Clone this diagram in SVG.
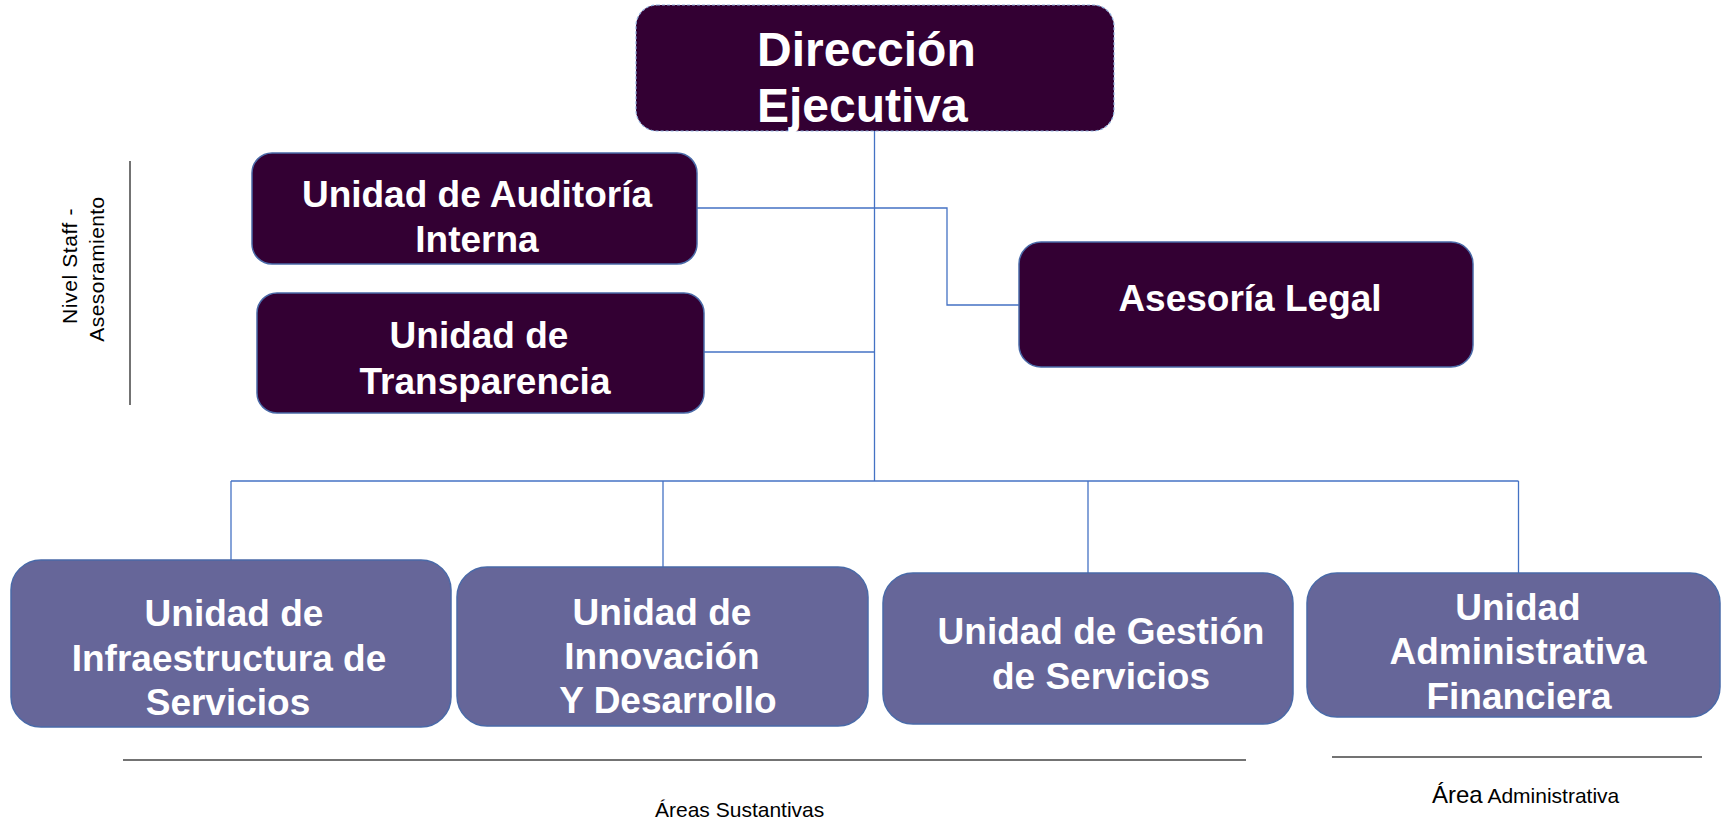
<svg xmlns="http://www.w3.org/2000/svg" width="1725" height="819" viewBox="0 0 1725 819">
<style>
.dark{fill:#330033;stroke:#4a6aa8;stroke-width:1.5}
.light{fill:#666699;stroke:#4a6aa8;stroke-width:1.5}
.lbl{font-family:"Liberation Sans",Arial,sans-serif;font-weight:bold;fill:#ffffff;text-anchor:middle}
.conn{fill:none;stroke:#4472c4;stroke-width:1.3}
.rule{stroke:#444444;stroke-width:1.5}
.note{font-family:"Liberation Sans",Arial,sans-serif;fill:#000000;font-size:21px}
</style>
<rect width="1725" height="819" fill="#ffffff"/>
<g id="connectors">
<path class="conn" d="M874.5 131 V481"/>
<path class="conn" d="M697 208 H947 V305 H1019"/>
<path class="conn" d="M704 352 H874.5"/>
<path class="conn" d="M231 481 H1518.5"/>
<path class="conn" d="M231 481 V560"/>
<path class="conn" d="M663 481 V567"/>
<path class="conn" d="M1088 481 V573"/>
<path class="conn" d="M1518.5 481 V573"/>
</g>
<g id="direccion">
<rect x="636" y="5" width="478" height="126" rx="21" fill="#330033" stroke="#8fb0dd" stroke-width="1.2" stroke-dasharray="3 2"/>
<text class="lbl" font-size="48" style="text-anchor:start" x="757" y="66">Dirección</text>
<text class="lbl" font-size="48" style="text-anchor:start" x="757" y="122">Ejecutiva</text>
</g>
<g id="auditoria">
<rect class="dark" x="252" y="153" width="445" height="111" rx="20"/>
<text class="lbl" font-size="37" x="477" y="207">Unidad de Auditoría</text>
<text class="lbl" font-size="37" x="477" y="252">Interna</text>
</g>
<g id="transparencia">
<rect class="dark" x="257" y="293" width="447" height="120" rx="20"/>
<text class="lbl" font-size="37" x="479" y="348">Unidad de</text>
<text class="lbl" font-size="37" x="485" y="394">Transparencia</text>
</g>
<g id="asesoria">
<rect class="dark" x="1019" y="242" width="454" height="125" rx="22"/>
<text class="lbl" font-size="37" x="1250" y="311">Asesoría Legal</text>
</g>
<g id="infraestructura">
<rect class="light" x="11" y="560" width="440" height="167" rx="30"/>
<text class="lbl" font-size="37" x="234" y="626">Unidad de</text>
<text class="lbl" font-size="37" x="229" y="671">Infraestructura de</text>
<text class="lbl" font-size="37" x="228" y="715">Servicios</text>
</g>
<g id="innovacion">
<rect class="light" x="457" y="567" width="411" height="159" rx="30"/>
<text class="lbl" font-size="37" x="662" y="625">Unidad de</text>
<text class="lbl" font-size="37" x="662" y="669">Innovación</text>
<text class="lbl" font-size="37" x="668" y="713">Y Desarrollo</text>
</g>
<g id="gestion">
<rect class="light" x="883" y="573" width="410" height="151" rx="30"/>
<text class="lbl" font-size="37" x="1101" y="644">Unidad de Gestión</text>
<text class="lbl" font-size="37" x="1101" y="689">de Servicios</text>
</g>
<g id="administrativa">
<rect class="light" x="1307" y="573" width="413" height="144" rx="30"/>
<text class="lbl" font-size="37" x="1518" y="620">Unidad</text>
<text class="lbl" font-size="37" x="1518" y="664">Administrativa</text>
<text class="lbl" font-size="37" x="1519" y="709">Financiera</text>
</g>
<g id="annotations">
<line class="rule" x1="130" y1="161" x2="130" y2="405"/>
<text class="note" font-size="21" letter-spacing="0.6" text-anchor="middle" transform="translate(77,266) rotate(-90)">Nivel Staff -</text>
<text class="note" font-size="21" letter-spacing="0.4" text-anchor="middle" transform="translate(104,269) rotate(-90)">Asesoramiento</text>
<line class="rule" x1="123" y1="760" x2="1246" y2="760"/>
<line class="rule" x1="1332" y1="757" x2="1702" y2="757"/>
<text class="note" x="655" y="817">Áreas Sustantivas</text>
<text class="note" x="1432" y="803"><tspan font-size="24">Área</tspan> Administrativa</text>
</g>
</svg>
